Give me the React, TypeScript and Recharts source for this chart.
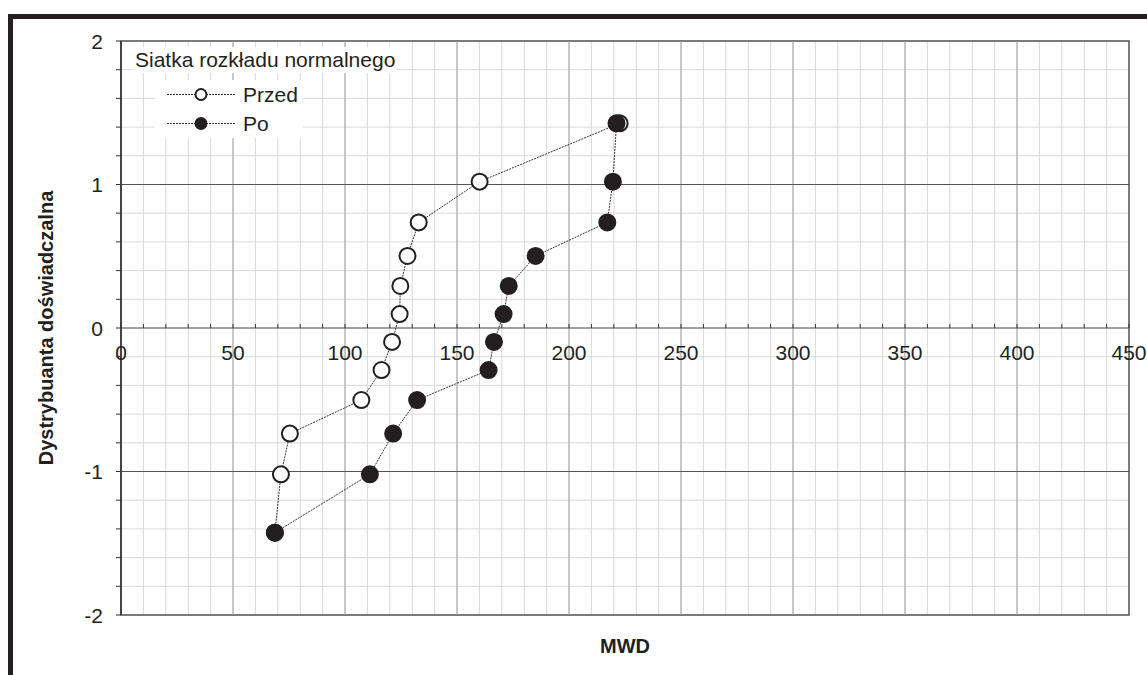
import React from 'react';
import {
  LineChart,
  Line,
  XAxis,
  YAxis,
  CartesianGrid,
  ReferenceLine,
  ReferenceArea,
  Legend
} from 'recharts';

// normal scores for 12 samples, i/(n+1)
const yScores = [-1.426, -1.02, -0.736, -0.502, -0.293, -0.097, 0.097, 0.293, 0.502, 0.736, 1.02, 1.426];
const przedX = [68.7, 71.4, 75.4, 107.3, 116.3, 121.0, 124.4, 124.7, 127.9, 132.9, 160.1, 222.6];
const poX = [68.7, 111.1, 121.5, 132.2, 164.1, 166.5, 170.8, 173.1, 185.1, 217.1, 219.6, 221.2];

const xMajor = [50, 100, 150, 200, 250, 300, 350, 400];
const xTicks = Array.from({ length: 46 }, (_, i) => i * 10);
const yTicks = [-2, -1.8, -1.6, -1.4, -1.2, -1, -0.8, -0.6, -0.4, -0.2, 0, 0.2, 0.4, 0.6, 0.8, 1, 1.2, 1.4, 1.6, 1.8, 2];
const yMajor = [-1, 0, 1];

const przedData = przedX.map((x, i) => ({ x, y: yScores[i] }));
const poData = poX.map((x, i) => ({ x, y: yScores[i] }));

const FONT = 'Arial, "Liberation Sans", Helvetica, sans-serif';
const INK = '#231f20';

const W = 1134;
const H = 650;
const MARGIN = { top: 22, right: 18, bottom: 4, left: 8 };
const X_AXIS_H = 50;
const PLOT_H = H - MARGIN.top - MARGIN.bottom - X_AXIS_H;
const ZERO_Y = MARGIN.top + PLOT_H / 2;

const XTick = (props: any) => {
  const { x, payload } = props;
  const v = payload.value;
  return (
    <g>
      <line x1={x} x2={x} y1={ZERO_Y - 4} y2={ZERO_Y} stroke="#333" />
      {v % 50 === 0 && (
        <text x={x} y={ZERO_Y + 24.5} dy="0.36em" textAnchor="middle" fontSize={21} fill={INK} fontFamily={FONT}>
          {v}
        </text>
      )}
    </g>
  );
};

const YTick = (props: any) => {
  const { x, y, payload } = props;
  if (!Number.isInteger(payload.value)) return <g />;
  return (
    <text x={x} y={y} dy="0.36em" textAnchor="end" fontSize={21} fill={INK} fontFamily={FONT}>
      {payload.value}
    </text>
  );
};

const legendItems = [
  { name: 'Przed', fill: '#fff' },
  { name: 'Po', fill: INK }
];

const renderLegend = () => (
  <div style={{ position: 'relative', fontFamily: FONT, color: INK }}>
    <div
      style={{
        position: 'absolute',
        left: 120,
        top: 28,
        padding: '0 2px',
        background: '#fff',
        fontSize: 21,
        lineHeight: '26px',
        whiteSpace: 'nowrap'
      }}
    >
      Siatka rozkładu normalnego
    </div>
    <div style={{ position: 'absolute', left: 142, top: 61, width: 148, height: 58, background: '#fff' }}>
      {legendItems.map((item, i) => (
        <div
          key={item.name}
          style={{ position: 'absolute', left: 0, top: i * 29, height: 29, display: 'flex', alignItems: 'center' }}
        >
          <svg width={88} height={29}>
            <line x1={12} x2={80} y1={14.5} y2={14.5} stroke="#333" strokeDasharray="2 1" />
            <circle cx={46} cy={14.5} r={5.5} fill={item.fill} stroke={INK} strokeWidth={2} />
          </svg>
          <span style={{ fontSize: 21, lineHeight: '29px' }}>{item.name}</span>
        </div>
      ))}
    </div>
  </div>
);

export default function App() {
  return (
    <div
      style={{
        position: 'absolute',
        left: 8,
        top: 14,
        width: 1139,
        height: 661,
        boxSizing: 'border-box',
        borderTop: `5px solid ${INK}`,
        borderLeft: `5px solid ${INK}`,
        background: '#fff'
      }}
    >
      <LineChart width={W} height={H} margin={MARGIN}>
        <CartesianGrid stroke="#d9d9d9" />
        {xMajor.map(v => (
          <ReferenceLine key={`vx-${v}`} x={v} stroke="#a3a3a3" />
        ))}
        {yMajor.map(v => (
          <ReferenceLine key={`hy-${v}`} y={v} stroke="#555" />
        ))}
        <ReferenceArea x1={0} x2={450} y1={-2} y2={2} fill="none" stroke="#555" strokeWidth={1.5} />
        <XAxis
          type="number"
          dataKey="x"
          domain={[0, 450]}
          ticks={xTicks}
          interval={0}
          height={X_AXIS_H}
          axisLine={false}
          tickLine={false}
          tick={(p: any) => <XTick {...p} />}
          label={{ value: 'MWD', position: 'insideBottom', offset: 12, fontSize: 20, fontWeight: 'bold', fill: INK, fontFamily: FONT }}
        />
        <YAxis
          type="number"
          dataKey="y"
          domain={[-2, 2]}
          ticks={yTicks}
          interval={0}
          width={100}
          tickSize={5}
          tickMargin={13}
          axisLine={{ stroke: '#333', strokeWidth: 1.5 }}
          tickLine={{ stroke: '#333' }}
          tick={(p: any) => <YTick {...p} />}
          label={{
            value: 'Dystrybuanta doświadczalna',
            angle: -90,
            position: 'insideLeft',
            offset: 25,
            fontSize: 20,
            fontWeight: 'bold',
            fill: INK,
            fontFamily: FONT,
            style: { textAnchor: 'middle' }
          }}
        />
        <Legend layout="vertical" align="center" verticalAlign="middle" wrapperStyle={{ left: 0, top: 0 }} content={renderLegend} />
        <Line
          data={przedData}
          dataKey="y"
          name="Przed"
          type="linear"
          stroke="#333"
          strokeWidth={1}
          strokeDasharray="2 1"
          dot={{ r: 8, fill: '#fff', stroke: INK, strokeWidth: 2, strokeDasharray: '0' }}
          activeDot={false}
          isAnimationActive={false}
        />
        <Line
          data={poData}
          dataKey="y"
          name="Po"
          type="linear"
          stroke="#333"
          strokeWidth={1}
          strokeDasharray="2 1"
          dot={{ r: 8, fill: INK, stroke: INK, strokeWidth: 2, strokeDasharray: '0' }}
          activeDot={false}
          isAnimationActive={false}
        />
      </LineChart>
    </div>
  );
}
